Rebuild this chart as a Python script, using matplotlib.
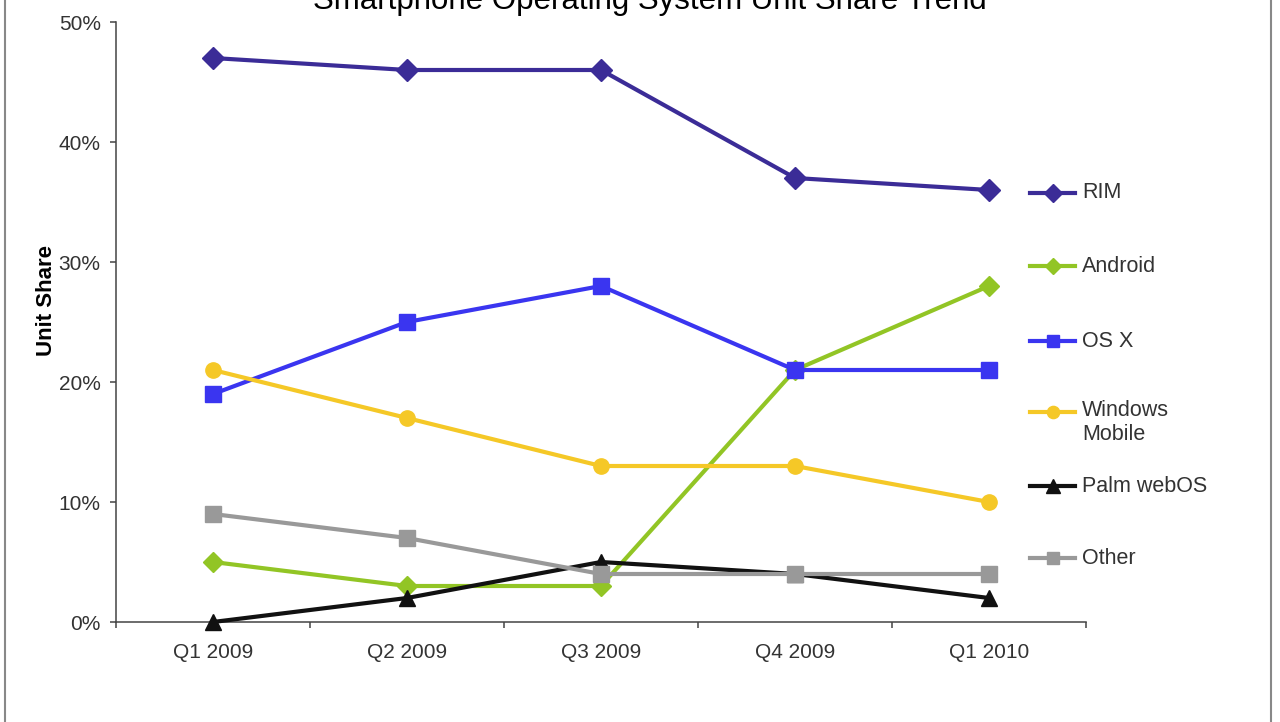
import matplotlib.pyplot as plt
from matplotlib.lines import Line2D

plt.rcParams['font.family'] = ['Liberation Sans', 'DejaVu Sans']

quarters = ["Q1 2009", "Q2 2009", "Q3 2009", "Q4 2009", "Q1 2010"]
rim = [47, 46, 46, 37, 36]
android = [5, 3, 3, 21, 28]
osx = [19, 25, 28, 21, 21]
windows_mobile = [21, 17, 13, 13, 10]
palm_webos = [0, 2, 5, 4, 2]
other = [9, 7, 4, 4, 4]

series = [
    ("RIM", rim, "#3b2c97", "D", 11),
    ("Android", android, "#92c525", "D", 10),
    ("OS X", osx, "#3a35f0", "s", 11),
    ("Windows\nMobile", windows_mobile, "#f5c827", "o", 11),
    ("Palm webOS", palm_webos, "#111111", "^", 12),
    ("Other", other, "#999999", "s", 11),
]
# legend row positions (pixels from top)
legend_rows = [193, 266, 341, 412, 486, 558]

W, H = 1280, 722
fig = plt.figure(figsize=(W / 100, H / 100), dpi=100)
ax = fig.add_axes([116 / W, 100 / H, 970 / W, 600 / H])

x = list(range(len(quarters)))
for name, vals, color, marker, ms in series:
    ax.plot(x, vals, color=color, lw=3, marker=marker, ms=ms, label=name,
            markeredgecolor=color, clip_on=False, zorder=3)

ax.set_xlim(-0.5, len(quarters) - 0.5)
ax.set_ylim(0, 50)
ax.set_xticks([i - 0.5 for i in range(len(quarters) + 1)])
ax.set_xticklabels([])
ax.set_xticks(x, minor=True)
ax.set_xticklabels(quarters, minor=True)
ax.tick_params(axis="x", which="minor", length=0, pad=15, labelsize=15, labelcolor="#333333")
ax.tick_params(axis="x", which="major", length=4, width=1.1, color="#444444", direction="out")
ax.set_yticks(range(0, 51, 10))
ax.set_yticklabels([f"{v}%" for v in range(0, 51, 10)])
ax.tick_params(axis="y", length=4, width=1.1, color="#444444", labelsize=15,
               labelcolor="#333333", pad=7)
for s in ["top", "right"]:
    ax.spines[s].set_visible(False)
for s in ["left", "bottom"]:
    ax.spines[s].set_color("#444444")
    ax.spines[s].set_linewidth(1.1)

fig.text(47 / W, 1 - 300 / H, "Unit Share", rotation=90, ha="center", va="center",
         fontsize=16, fontweight="bold")
fig.text(650 / W, 1 - 9 / H, "Smartphone Operating System Unit Share Trend",
         ha="center", va="baseline", fontsize=22.5)

# legend drawn by hand so the two-line entry sits like the original
for (name, _, color, marker, ms), row in zip(series, legend_rows):
    yy = 1 - row / H
    fig.add_artist(Line2D([1030 / W, 1075 / W], [yy, yy], color=color, lw=3))
    fig.add_artist(Line2D([1052.5 / W], [yy], color=color, marker=marker,
                          ms=ms * 0.8, markeredgecolor=color))
    if "\n" in name:
        fig.text(1082 / W, 1 - (row - 12) / H, name, ha="left", va="top",
                 fontsize=15.5, color="#333333", linespacing=1.2)
    else:
        fig.text(1082 / W, yy, name, ha="left", va="center", fontsize=15.5, color="#333333")

# outer frame
fig.add_artist(Line2D([5 / W, 5 / W], [0, 1], color="#888888", lw=1.5))
fig.add_artist(Line2D([1271 / W, 1271 / W], [0, 1], color="#888888", lw=1.5))

fig.savefig("out.png", dpi=100)
